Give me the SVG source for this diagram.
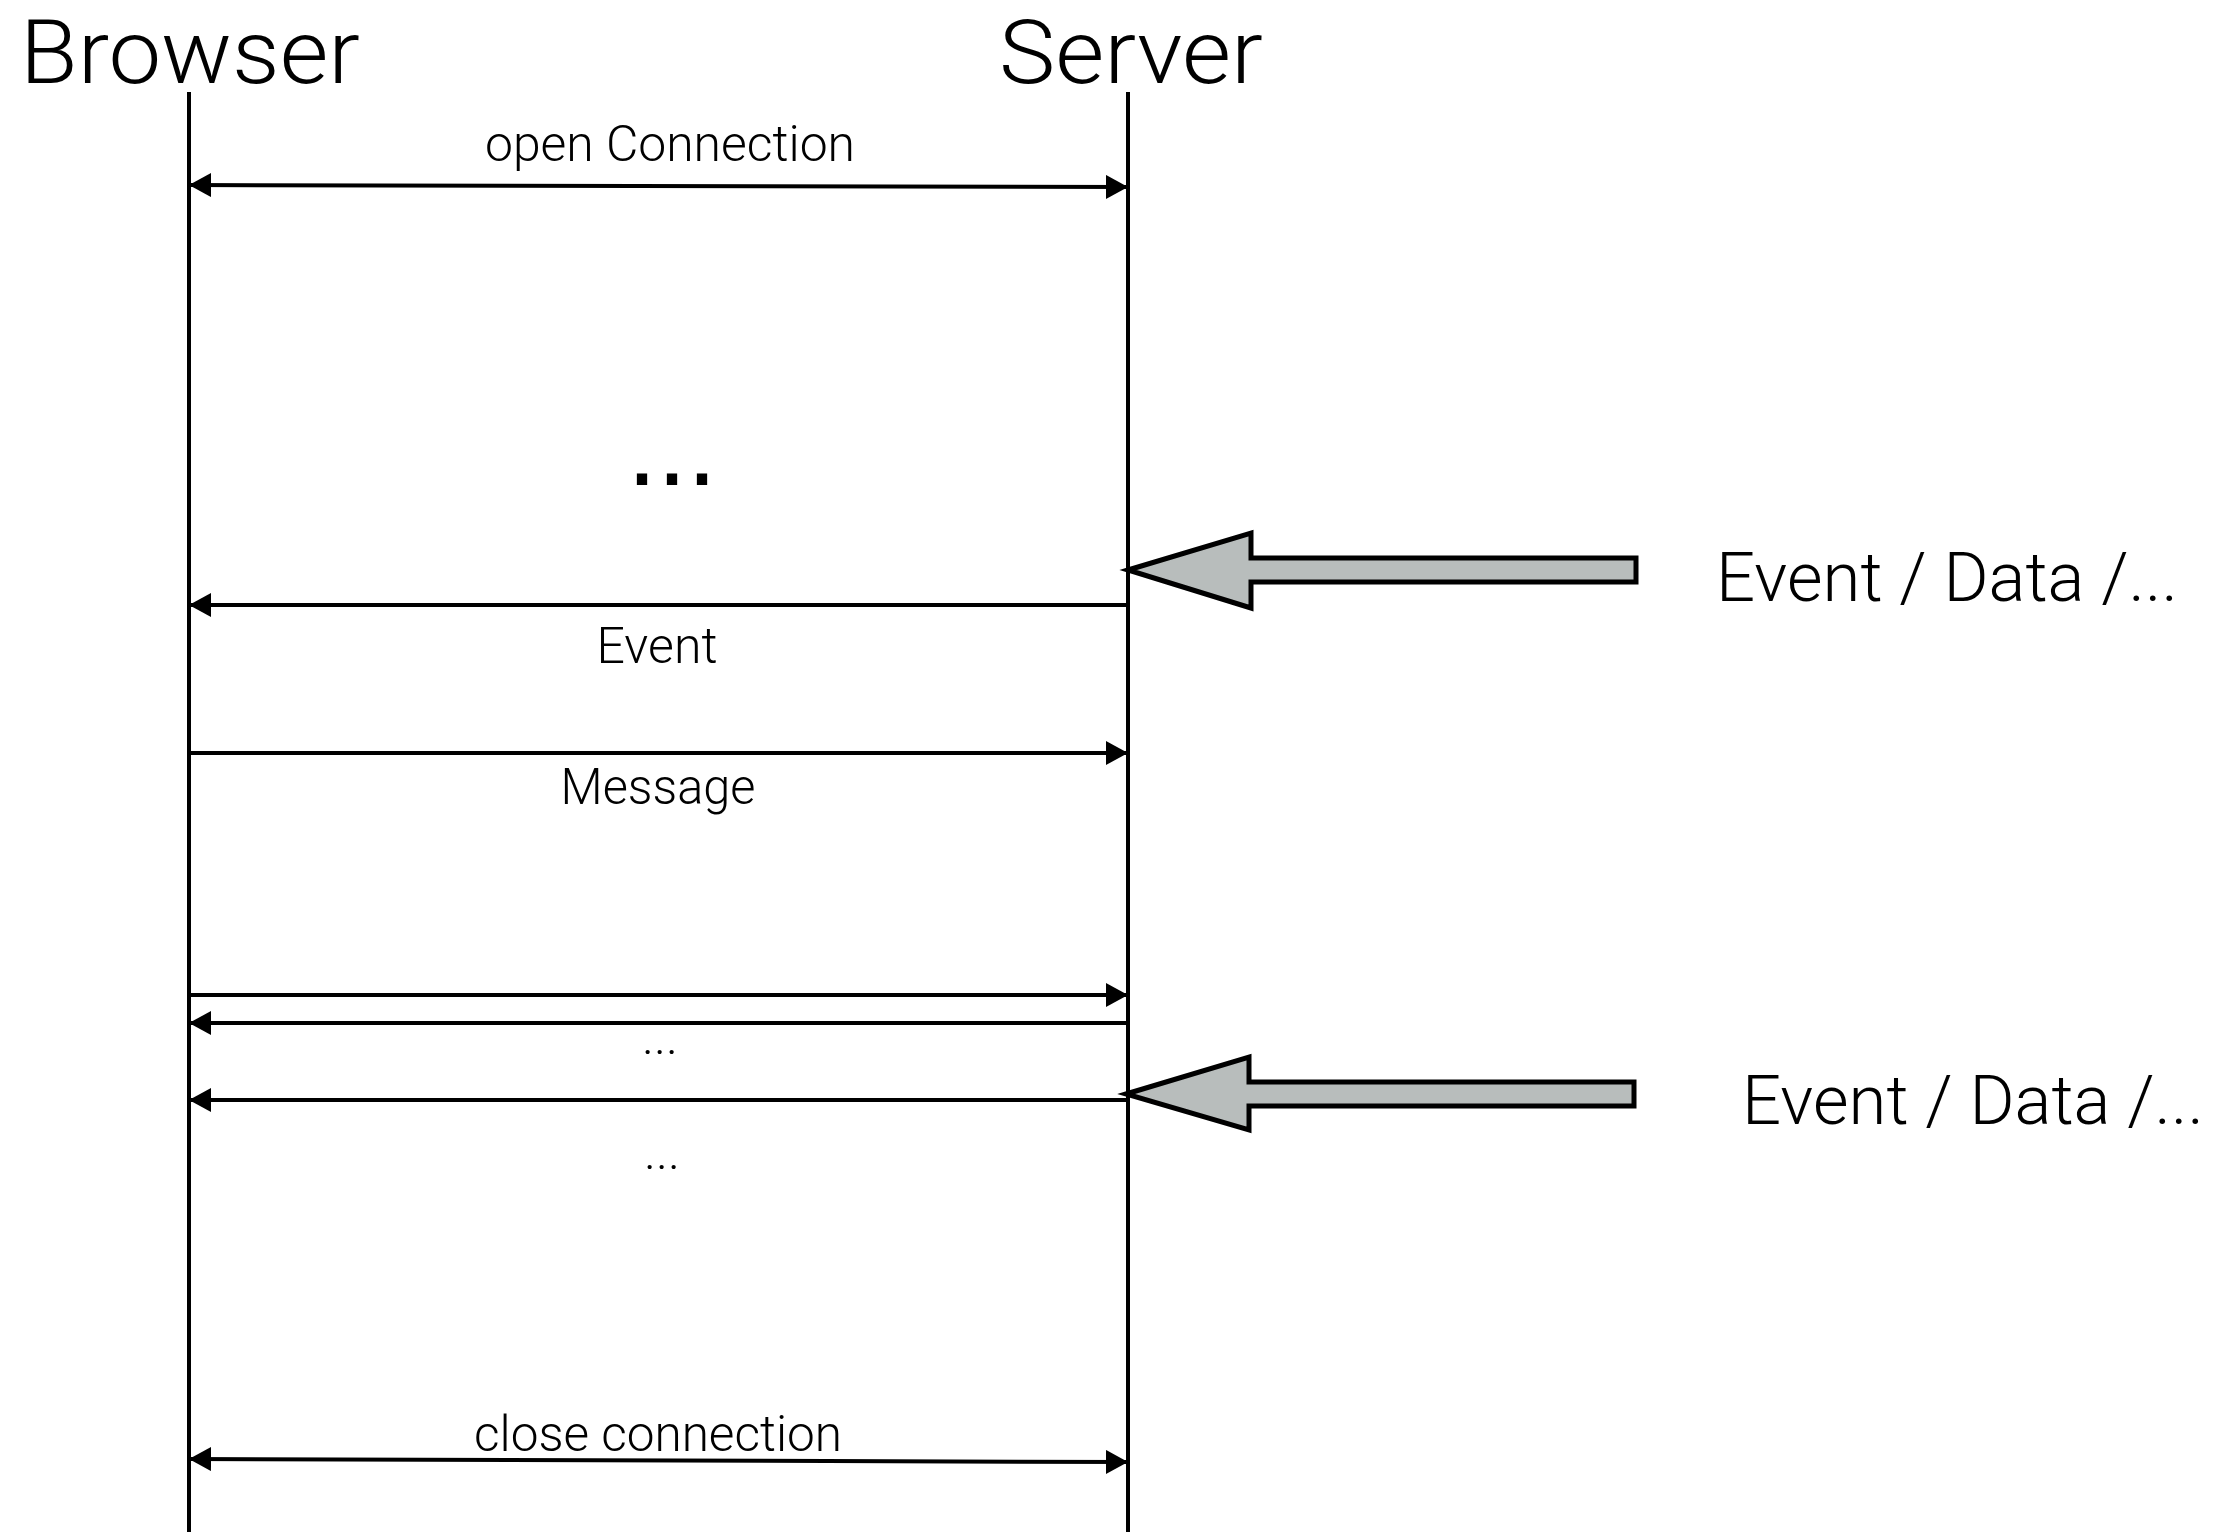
<svg xmlns="http://www.w3.org/2000/svg" width="2233" height="1532" viewBox="0 0 2233 1532">
  <style>
    .title { font-family: "Roboto", "Liberation Sans", sans-serif; font-weight: 300; font-size: 89px; fill: #000; }
    .label { font-family: "Roboto", "Liberation Sans", sans-serif; font-weight: 300; font-size: 50px; fill: #000; text-anchor: middle; }
    .ext { font-family: "Roboto", "Liberation Sans", sans-serif; font-weight: 300; font-size: 69px; fill: #000; }
    .dots { font-family: "Liberation Sans", sans-serif; font-size: 108px; fill: #000; text-anchor: middle; }
    .lifeline { stroke: #000; stroke-width: 4; fill: none; }
    .msg { stroke: #000; stroke-width: 4; fill: none; }
    .block { fill: #b8bdbc; stroke: #000; stroke-width: 5; stroke-linejoin: miter; }
  </style>
  <defs>
    <marker id="head" viewBox="0 0 22 24" markerWidth="22" markerHeight="24" refX="22" refY="12" orient="auto-start-reverse" markerUnits="userSpaceOnUse">
      <path d="M0,0 L22,12 L0,24 Z" fill="#000"/>
    </marker>
  </defs>

  <rect width="2233" height="1532" fill="#fff"/>

  <!-- participant: Browser -->
  <g id="browser">
    <text class="title" x="20" y="83" textLength="340" lengthAdjust="spacingAndGlyphs">Browser</text>
    <line class="lifeline" x1="189" y1="92" x2="189" y2="1532"/>
  </g>

  <!-- participant: Server -->
  <g id="server">
    <text class="title" x="999" y="83" textLength="264" lengthAdjust="spacingAndGlyphs">Server</text>
    <line class="lifeline" x1="1128" y1="92" x2="1128" y2="1532"/>
  </g>

  <!-- external input pushed into the server -->
  <g id="source-1">
    <polygon class="block" points="1128,570 1251,533 1251,558 1636,558 1636,582 1251,582 1251,608"/>
    <text class="ext" x="1716" y="601" textLength="462" lengthAdjust="spacingAndGlyphs">Event / Data /...</text>
  </g>

  <g id="source-2">
    <polygon class="block" points="1126,1094 1249,1057 1249,1082 1634,1082 1634,1106 1249,1106 1249,1130"/>
    <text class="ext" x="1742" y="1124" textLength="462" lengthAdjust="spacingAndGlyphs">Event / Data /...</text>
  </g>

  <!-- messages between browser and server -->
  <g id="connectors">
    <line class="msg" x1="189" y1="185" x2="1128" y2="187" marker-start="url(#head)" marker-end="url(#head)"/>
    <text class="label" x="670" y="161" textLength="370" lengthAdjust="spacingAndGlyphs">open Connection</text>

    <text class="dots" x="672" y="485">...</text>

    <line class="msg" x1="1128" y1="605" x2="189" y2="605" marker-end="url(#head)"/>
    <text class="label" x="657" y="663" textLength="121" lengthAdjust="spacingAndGlyphs">Event</text>

    <line class="msg" x1="189" y1="753" x2="1128" y2="753" marker-end="url(#head)"/>
    <text class="label" x="658" y="804" textLength="195" lengthAdjust="spacingAndGlyphs">Message</text>

    <line class="msg" x1="189" y1="995" x2="1128" y2="995" marker-end="url(#head)"/>
    <line class="msg" x1="1128" y1="1023" x2="189" y2="1023" marker-end="url(#head)"/>
    <text class="label" x="660" y="1054">...</text>

    <line class="msg" x1="1128" y1="1100" x2="189" y2="1100" marker-end="url(#head)"/>
    <text class="label" x="662" y="1169">...</text>

    <line class="msg" x1="189" y1="1459" x2="1128" y2="1462" marker-start="url(#head)" marker-end="url(#head)"/>
    <text class="label" x="658" y="1451" textLength="368" lengthAdjust="spacingAndGlyphs">close connection</text>
  </g>
</svg>
